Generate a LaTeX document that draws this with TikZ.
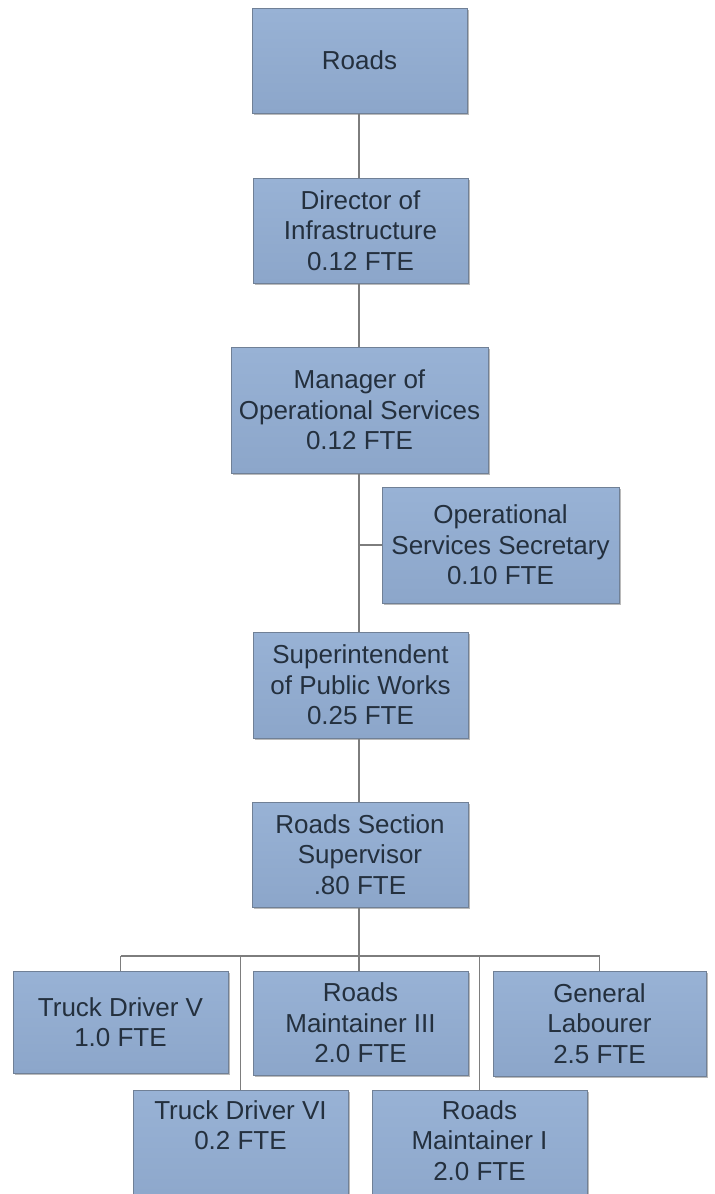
\documentclass[tikz,border=0pt]{standalone}
\usepackage{fontspec}
\setmainfont{Liberation Sans}
\usetikzlibrary{shadows}
\definecolor{boxtop}{RGB}{152,178,213}
\definecolor{boxbot}{RGB}{140,166,202}
\definecolor{boxline}{RGB}{112,128,150}
\definecolor{boxtext}{RGB}{36,48,62}
\definecolor{wire}{RGB}{125,125,125}
\tikzset{
  unit/.style={draw=boxline, line width=0.5pt, top color=boxtop, bottom color=boxbot,
    text=boxtext, align=center, inner sep=0pt,
    font=\fontsize{13}{15.25}\selectfont,
    drop shadow={shadow xshift=1pt, shadow yshift=-1.2pt, opacity=0.45, fill=black!60}},
  link/.style={draw=wire, line width=0.6pt}
}
\begin{document}
\begin{tikzpicture}[x=0.5pt,y=-0.5pt]
\useasboundingbox (0,0) rectangle (715,1194);
\clip (0,0) rectangle (715,1194);
\fill[white] (0,0) rectangle (715,1194);
\coordinate (bus) at (359,956);
% boxes
\node[unit, minimum width=107.5pt, minimum height=52.5pt] (roads) at (359.5,60.5) {Roads};
\node[unit, minimum width=107.5pt, minimum height=52.5pt] (dir) at (360.5,230.5) {Director of\\Infrastructure\\0.12 FTE};
\node[unit, minimum width=128.5pt, minimum height=63pt] (mgr) at (359.5,410) {Manager of\\Operational Services\\0.12 FTE};
\node[unit, minimum width=118.5pt, minimum height=58pt] (sec) at (500.5,545) {Operational\\Services Secretary\\0.10 FTE};
\node[unit, minimum width=107.5pt, minimum height=53pt] (supt) at (360.5,685) {Superintendent\\of Public Works\\0.25 FTE};
\node[unit, minimum width=108pt, minimum height=52.5pt] (rss) at (360,854.5) {Roads Section\\Supervisor\\.80 FTE};
\node[unit, minimum width=107.5pt, minimum height=51pt] (td5) at (120.5,1022) {Truck Driver V\\1.0 FTE};
\node[unit, minimum width=107.5pt, minimum height=52pt] (rm3) at (360.5,1023) {Roads\\Maintainer III\\2.0 FTE};
\node[unit, minimum width=106.5pt, minimum height=52.5pt] (gl) at (599.5,1023.5) {General\\Labourer\\2.5 FTE};
% the last row runs past the lower edge of the page
\node[unit, minimum width=107.5pt, minimum height=62.5pt, text depth=27.5pt] (td6) at (240.5,1152.5) {Truck Driver VI\\0.2 FTE};
\node[unit, minimum width=107.5pt, minimum height=62.5pt, text depth=12pt] (rm1) at (479.5,1152.5) {Roads\\Maintainer I\\2.0 FTE};
% connectors
\draw[link] (roads.south -| bus) -- (dir.north -| bus);
\draw[link] (dir.south -| bus) -- (mgr.north -| bus);
\draw[link] (mgr.south -| bus) -- (supt.north -| bus);
\draw[link] (sec.west) -- (sec.west -| bus);
\draw[link] (supt.south -| bus) -- (rss.north -| bus);
\draw[link] (rss.south -| bus) -- (rm3.north -| bus);
\draw[link] (td5.north |- bus) -- (gl.north |- bus);
\draw[link] (td5.north |- bus) -- (td5.north);
\draw[link] (td6.north |- bus) -- (td6.north);
\draw[link] (rm1.north |- bus) -- (rm1.north);
\draw[link] (gl.north |- bus) -- (gl.north);
\end{tikzpicture}
\end{document}
